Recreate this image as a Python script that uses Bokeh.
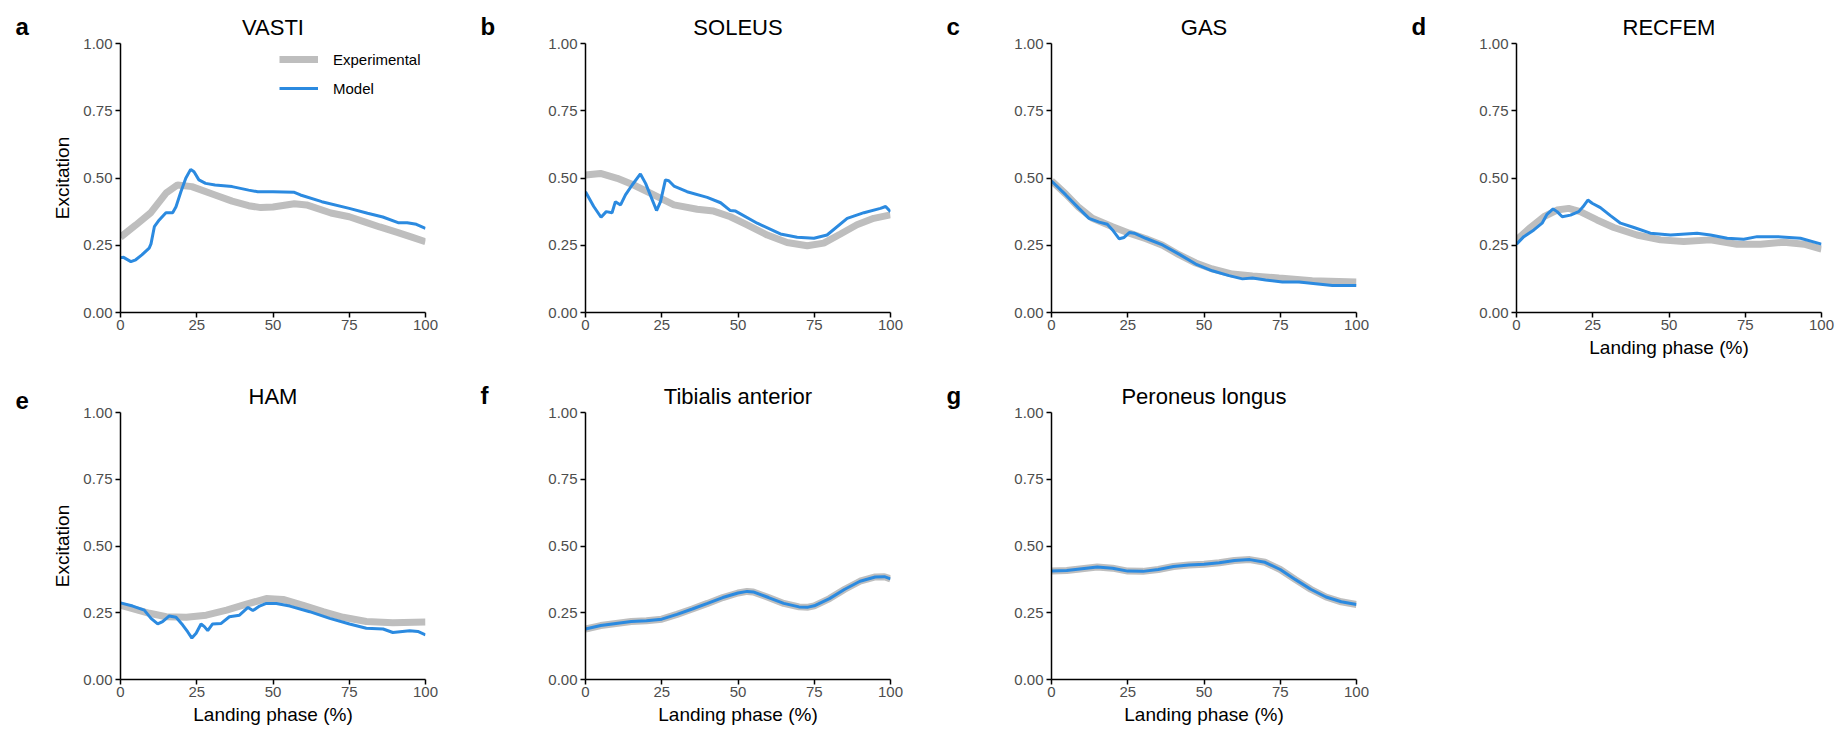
from bokeh.plotting import figure
from bokeh.models import Range1d, FixedTicker, PrintfTickFormatter, Legend, LegendItem
from bokeh.layouts import column, row
from bokeh.embed import file_html
from bokeh.resources import INLINE

FONT = "Liberation Sans"
GRAY = "#bebebe"
BLUE = "#2b8ae0"

x_ticks = [0, 25, 50, 75, 100]
y_ticks = [0, 0.25, 0.5, 0.75, 1.0]
titles = ["VASTI", "SOLEUS", "GAS", "RECFEM", "HAM", "Tibialis anterior", "Peroneus longus"]
letters = ["a", "b", "c", "d", "e", "f", "g"]
series_names = ["Experimental", "Model"]
x_label = "Landing phase (%)"
y_label = "Excitation"

# ---- VASTI ----
exp_a_x = [0, 5, 10, 15, 18.7, 23.4, 31, 36.6, 42, 46, 50, 57, 61, 69, 75, 80, 85, 91, 95, 100]
exp_a_y = [0.28, 0.325, 0.372, 0.445, 0.474, 0.468, 0.437, 0.414, 0.397, 0.39, 0.392, 0.404, 0.40,
           0.37, 0.356, 0.337, 0.318, 0.297, 0.282, 0.263]
mod_a_x = [0, 1, 3.4, 5, 7, 9.4, 10, 11.1, 12.7, 14.9, 17.1, 18.2, 19.8, 21.4, 23, 24.1, 25.7, 27.9,
           31, 36.6, 42, 45, 50, 57, 59, 66, 75, 81, 86, 91, 94, 97, 100]
mod_a_y = [0.204, 0.205, 0.189, 0.196, 0.214, 0.239, 0.255, 0.319, 0.344, 0.371, 0.371, 0.393, 0.449,
           0.499, 0.532, 0.523, 0.493, 0.48, 0.474, 0.468, 0.455, 0.449, 0.449, 0.447, 0.437, 0.412,
           0.387, 0.369, 0.355, 0.334, 0.334, 0.328, 0.313]

# ---- SOLEUS ----
exp_b_x = [0, 4.9, 10.4, 15.8, 22.4, 29, 36.6, 42, 47.5, 53, 59.6, 66.1, 72.7, 78.1, 83.6, 89, 94.5, 100]
exp_b_y = [0.511, 0.517, 0.499, 0.474, 0.437, 0.40, 0.384, 0.377, 0.356, 0.326, 0.288, 0.26, 0.248,
           0.258, 0.292, 0.326, 0.35, 0.363]
mod_b_x = [0, 2.7, 5.1, 6.8, 8.7, 9.8, 11.5, 13.1, 15.3, 18, 19.7, 23.3, 24.6, 26.2, 27.3, 29, 33.3,
           39.9, 44.3, 47.5, 49.2, 56.3, 63.9, 69.4, 74.9, 79.2, 85.8, 91.3, 96.7, 98.4, 100]
mod_b_y = [0.449, 0.394, 0.354, 0.375, 0.371, 0.412, 0.40, 0.437, 0.474, 0.515, 0.48, 0.379, 0.412,
           0.493, 0.49, 0.47, 0.449, 0.428, 0.408, 0.379, 0.377, 0.332, 0.292, 0.28, 0.276, 0.288,
           0.35, 0.371, 0.387, 0.394, 0.375]

# ---- GAS ----
exp_c_x = [0, 4.7, 9, 13.4, 20, 25.5, 31, 36.4, 41.8, 47.3, 52.7, 59.3, 65.9, 74.6, 85.5, 100]
exp_c_y = [0.49, 0.44, 0.39, 0.35, 0.319, 0.295, 0.274, 0.25, 0.215, 0.184, 0.162, 0.143, 0.136,
           0.128, 0.118, 0.113]
mod_c_x = [0, 4.7, 9, 12.3, 15.6, 18.3, 20, 22.2, 23.8, 25.5, 27.1, 30.9, 36.4, 41.8, 47.3, 52.7,
           58.2, 62.6, 65.9, 70.2, 75.7, 81.2, 86.6, 92.1, 100]
mod_c_y = [0.489, 0.437, 0.387, 0.35, 0.336, 0.328, 0.307, 0.274, 0.279, 0.297, 0.295, 0.276, 0.251,
           0.217, 0.18, 0.155, 0.137, 0.125, 0.128, 0.121, 0.113, 0.113, 0.107, 0.10, 0.10]

# ---- RECFEM ----
exp_d_x = [0, 4.6, 9, 13.3, 17.1, 20.9, 26.4, 31.9, 39.5, 47.2, 54.8, 63.6, 72.3, 80, 87.7, 94.3, 100]
exp_d_y = [0.27, 0.316, 0.356, 0.381, 0.387, 0.375, 0.344, 0.316, 0.288, 0.27, 0.264, 0.27, 0.254,
           0.254, 0.261, 0.254, 0.236]
mod_d_x = [0, 2.4, 5.7, 8.4, 10, 12, 13.3, 15, 17.7, 20.4, 21.8, 23.4, 24.8, 27.5, 30.8, 34.1, 38.5,
           43.9, 50.5, 59.2, 63.6, 69.1, 74.5, 78.9, 85.5, 93.1, 100]
mod_d_y = [0.254, 0.282, 0.307, 0.332, 0.365, 0.385, 0.375, 0.356, 0.362, 0.375, 0.393, 0.418, 0.406,
           0.39, 0.36, 0.332, 0.316, 0.295, 0.288, 0.295, 0.288, 0.276, 0.272, 0.282, 0.282, 0.276, 0.254]

# ---- HAM ----
exp_e_x = [0, 5.1, 9.5, 15, 21.6, 28.1, 34.8, 41.3, 47.8, 53.3, 59.9, 66.4, 73, 80.6, 89.3, 100]
exp_e_y = [0.278, 0.262, 0.248, 0.235, 0.233, 0.241, 0.26, 0.282, 0.303, 0.30, 0.278, 0.254, 0.233,
           0.217, 0.213, 0.215]
mod_e_x = [0, 4, 7.8, 10, 12.2, 13.8, 16, 18.2, 20.4, 22, 23.4, 24.8, 26.4, 27.5, 28.6, 30.2, 33,
           35.7, 39, 41.8, 43.4, 45.6, 47.8, 51.1, 55.5, 62, 68.6, 75.1, 80.6, 86.1, 89.3, 94.8, 97.5, 100]
mod_e_y = [0.287, 0.275, 0.26, 0.229, 0.208, 0.217, 0.238, 0.233, 0.204, 0.179, 0.155, 0.173, 0.208,
           0.198, 0.183, 0.208, 0.21, 0.235, 0.241, 0.27, 0.258, 0.275, 0.285, 0.285, 0.275, 0.254,
           0.229, 0.208, 0.192, 0.189, 0.176, 0.183, 0.18, 0.167]

# ---- Tibialis anterior ----
exp_f_x = [0, 5, 10, 15, 20, 25, 30, 35, 40, 45, 50, 53, 55, 60, 65, 70, 73, 75, 80, 85, 90, 95, 98, 100]
exp_f_y = [0.189, 0.202, 0.21, 0.217, 0.22, 0.226, 0.244, 0.264, 0.285, 0.307, 0.324, 0.33, 0.328,
           0.307, 0.285, 0.272, 0.271, 0.276, 0.303, 0.338, 0.368, 0.384, 0.385, 0.377]
mod_f_x = [0, 5, 10, 15, 20, 25, 30, 35, 40, 45, 50, 53, 55, 60, 65, 70, 73, 75, 80, 85, 90, 95, 98, 100]
mod_f_y = [0.189, 0.202, 0.21, 0.217, 0.22, 0.226, 0.244, 0.264, 0.285, 0.307, 0.324, 0.33, 0.328,
           0.307, 0.285, 0.272, 0.271, 0.276, 0.303, 0.338, 0.368, 0.384, 0.385, 0.377]

# ---- Peroneus longus ----
exp_g_x = [0, 5, 10, 15, 20, 25, 30, 35, 40, 45, 50, 55, 60, 65, 70, 75, 80, 85, 90, 95, 100]
exp_g_y = [0.406, 0.408, 0.415, 0.421, 0.417, 0.406, 0.405, 0.412, 0.423, 0.429, 0.432, 0.437, 0.446,
           0.449, 0.439, 0.412, 0.374, 0.338, 0.309, 0.291, 0.281]
mod_g_x = [0, 5, 10, 15, 20, 25, 30, 35, 40, 45, 50, 55, 60, 65, 70, 75, 80, 85, 90, 95, 100]
mod_g_y = [0.406, 0.408, 0.415, 0.421, 0.417, 0.406, 0.405, 0.412, 0.423, 0.429, 0.432, 0.437, 0.446,
           0.449, 0.439, 0.412, 0.374, 0.338, 0.309, 0.291, 0.281]

data = [
    (exp_a_x, exp_a_y, mod_a_x, mod_a_y),
    (exp_b_x, exp_b_y, mod_b_x, mod_b_y),
    (exp_c_x, exp_c_y, mod_c_x, mod_c_y),
    (exp_d_x, exp_d_y, mod_d_x, mod_d_y),
    (exp_e_x, exp_e_y, mod_e_x, mod_e_y),
    (exp_f_x, exp_f_y, mod_f_x, mod_f_y),
    (exp_g_x, exp_g_y, mod_g_x, mod_g_y),
]

LW = 40          # width of the small figure that carries the panel letter
LEFT = 80        # left border of the plot figure (frame starts 120 px into the panel)
FW = 305
TITLE_STANDOFF = 8


def style_axis(ax):
    ax.axis_line_color = "black"
    ax.axis_line_width = 1.5
    ax.major_tick_line_color = "black"
    ax.major_tick_line_width = 1.5
    ax.major_tick_out = 5
    ax.major_tick_in = 0
    ax.minor_tick_line_color = None
    ax.major_label_text_font = FONT
    ax.major_label_text_font_size = "15px"
    ax.major_label_text_color = "#4d4d4d"
    ax.axis_label_text_font = FONT
    ax.axis_label_text_font_size = "19px"
    ax.axis_label_text_font_style = "normal"
    ax.axis_label_text_color = "black"


def letter_fig(i, height, top, bottom):
    q = figure(width=LW, height=height, x_range=Range1d(0, 1), y_range=Range1d(0, 1),
               output_backend="svg", toolbar_location=None,
               x_axis_location=None, y_axis_location=None,
               min_border_left=0, min_border_right=0,
               min_border_top=top, min_border_bottom=bottom)
    q.grid.visible = False
    q.outline_line_color = None
    q.title.text = letters[i]
    q.title.align = "left"
    q.title.offset = 15
    q.title.text_font = FONT
    q.title.text_font_size = "24px"
    q.title.text_font_style = "bold"
    q.title.text_color = "black"
    q.title.standoff = TITLE_STANDOFF
    return q


def make(i, width, height, top, bottom, show_x_label, show_y_label, legend=False):
    w = width - LW
    p = figure(width=w, height=height, x_range=Range1d(0, 100), y_range=Range1d(0, 1),
               output_backend="svg", toolbar_location=None,
               min_border_left=LEFT, min_border_right=w - LEFT - FW,
               min_border_top=top, min_border_bottom=bottom)
    p.title.text = titles[i]
    p.title.align = "center"
    p.title.text_font = FONT
    p.title.text_font_size = "22px"
    p.title.text_font_style = "normal"
    p.title.text_color = "black"
    p.title.standoff = TITLE_STANDOFF
    p.xgrid.visible = False
    p.ygrid.visible = False
    p.outline_line_color = None
    p.xaxis[0].ticker = FixedTicker(ticks=x_ticks)
    p.yaxis[0].ticker = FixedTicker(ticks=y_ticks)
    p.yaxis[0].formatter = PrintfTickFormatter(format="%.2f")
    style_axis(p.xaxis[0])
    style_axis(p.yaxis[0])
    p.xaxis[0].major_label_standoff = 2
    p.xaxis[0].axis_label_standoff = 4
    p.yaxis[0].major_label_standoff = 3
    p.yaxis[0].axis_label_standoff = 7
    if show_x_label:
        p.xaxis[0].axis_label = x_label
    if show_y_label:
        p.yaxis[0].axis_label = y_label

    ex, ey, mx, my = data[i]
    r1 = p.line(ex, ey, line_color=GRAY, line_width=7)
    r2 = p.line(mx, my, line_color=BLUE, line_width=3)

    if legend:
        lg = Legend(items=[LegendItem(label=series_names[0], renderers=[r1]),
                           LegendItem(label=series_names[1], renderers=[r2])],
                    location=(159, 214), orientation="vertical")
        lg.border_line_color = None
        lg.background_fill_alpha = 0
        lg.padding = 0
        lg.margin = 0
        lg.spacing = 9
        lg.glyph_width = 39
        lg.glyph_height = 20
        lg.label_height = 20
        lg.label_standoff = 15
        lg.label_text_font = FONT
        lg.label_text_font_size = "15px"
        lg.label_text_color = "black"
        p.add_layout(lg)
    return [letter_fig(i, height, top, bottom), p]


H1, T1, B1 = 375, 43, 63
H2, T2, B2 = 354, 35, 50

row1 = (make(0, 465, H1, T1, B1, False, True, legend=True)
        + make(1, 466, H1, T1, B1, False, False)
        + make(2, 465, H1, T1, B1, False, False)
        + make(3, 440, H1, T1, B1, True, False))
row2 = (make(4, 465, H2, T2, B2, True, True)
        + make(5, 466, H2, T2, B2, True, False)
        + make(6, 465, H2, T2, B2, True, False))

layout = column(row(*row1, spacing=0), row(*row2, spacing=0), spacing=0)

open("out.html", "w").write(file_html(layout, INLINE))
